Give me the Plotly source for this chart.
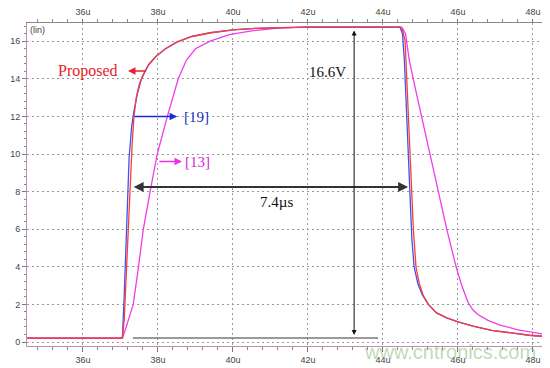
import plotly.graph_objects as go

# ---- data (time in microseconds, voltage in V) ----
t_proposed = [34.5, 37.05, 37.1, 37.14, 37.18, 37.22, 37.27, 37.31, 37.36, 37.42, 37.5, 37.6,
              37.75, 37.95, 38.2, 38.5, 38.9, 39.4, 40.0, 40.6, 41.3, 42.0, 44.45, 44.52,
              44.59, 44.63, 44.68, 44.72, 44.76, 44.81, 44.88, 44.97, 45.07, 45.21, 45.43,
              45.7, 46.0, 46.4, 46.9, 47.4, 47.9, 48.27]
v_proposed = [0.2, 0.2, 1.2, 3.0, 5.0, 7.0, 9.0, 10.5, 12.0, 13.0, 13.7, 14.2,
              14.75, 15.2, 15.6, 15.95, 16.25, 16.45, 16.6, 16.68, 16.72, 16.75, 16.75, 16.6,
              16.0, 14.0, 12.0, 10.0, 8.0, 6.0, 4.0, 3.1, 2.5, 2.0, 1.55,
              1.28, 1.07, 0.85, 0.62, 0.47, 0.36, 0.3]

t_ref19 = [34.5, 37.05, 37.1, 37.14, 37.18, 37.23, 37.3, 37.36, 37.45, 37.56,
           37.75, 37.95, 38.2, 38.5, 38.9, 39.4, 40.0, 40.6, 41.3, 42.0, 44.45, 44.52,
           44.57, 44.6, 44.64, 44.68, 44.72, 44.77, 44.83, 44.93, 45.05, 45.21, 45.43,
           45.7, 46.0, 46.4, 46.9, 47.4, 47.9, 48.27]
v_ref19 = [0.2, 0.2, 2.5, 5.0, 7.5, 9.8, 11.5, 12.3, 13.2, 14.0,
           14.75, 15.2, 15.6, 15.95, 16.25, 16.45, 16.6, 16.68, 16.72, 16.75, 16.75, 16.4,
           15.0, 13.5, 11.5, 9.5, 7.5, 5.5, 4.0, 3.1, 2.5, 2.0, 1.55,
           1.28, 1.07, 0.85, 0.62, 0.47, 0.36, 0.3]

t_ref13 = [34.5, 37.05, 37.12, 37.24, 37.34, 37.48, 37.61, 37.79, 37.98, 38.25, 38.54,
           38.76, 39.0, 39.39, 39.9, 40.5, 41.2, 42.0, 44.5, 44.6, 44.7, 44.85, 45.03,
           45.25, 45.46, 45.7, 45.95, 46.1, 46.27, 46.4, 46.54, 46.8, 47.12, 47.6, 48.27]
v_ref13 = [0.2, 0.2, 0.6, 1.3, 2.0, 4.0, 6.0, 8.0, 10.0, 12.0, 14.0,
           15.0, 15.6, 16.0, 16.35, 16.55, 16.7, 16.75, 16.75, 16.4, 15.0, 13.6, 12.0,
           10.0, 8.0, 6.0, 4.0, 3.0, 2.1, 1.7, 1.45, 1.15, 0.9, 0.65, 0.42]

x_ticks = [36, 38, 40, 42, 44, 46, 48]
x_tick_labels = ["36u", "38u", "40u", "42u", "44u", "46u", "48u"]
y_ticks = [0, 2, 4, 6, 8, 10, 12, 14, 16]
y_tick_labels = ["0", "2", "4", "6", "8", "10", "12", "14", "16"]

X_RANGE = [34.507, 48.267]
Y_RANGE = [-0.213, 16.968]

RED = "#ff3b3b"
BLUE = "#3a55f0"
MAG = "#ee3cee"

fig = go.Figure()
fig.add_trace(go.Scatter(x=t_ref13, y=v_ref13, mode="lines", line=dict(color=MAG, width=1.3),
                         name="[13]", hoverinfo="skip"))
fig.add_trace(go.Scatter(x=t_ref19, y=v_ref19, mode="lines", line=dict(color=BLUE, width=1.3),
                         name="[19]", hoverinfo="skip"))
fig.add_trace(go.Scatter(x=t_proposed, y=v_proposed, mode="lines", line=dict(color=RED, width=1.3),
                         name="Proposed", hoverinfo="skip"))
# invisible copy on the top axis so that the top time axis is drawn
fig.add_trace(go.Scatter(x=t_proposed, y=v_proposed, mode="lines", xaxis="x2",
                         line=dict(color="rgba(0,0,0,0)", width=0.1), hoverinfo="skip",
                         showlegend=False))

tickfont = dict(family="Liberation Sans", size=9, color="#444")
common_x = dict(range=X_RANGE, tickmode="array", tickvals=x_ticks, ticktext=x_tick_labels,
                ticks="outside", tickcolor="#777", tickfont=tickfont,
                zeroline=False, showline=True, linewidth=1, automargin=False)

GRID = dict(showgrid=True, gridcolor="#999", griddash="2px,3px", gridwidth=1)

# the page body has an 8px margin, so the figure is sized/offset to compensate
fig.update_layout(
    width=542, height=360,
    margin=dict(l=19, r=7, t=15, b=22, autoexpand=False),
    paper_bgcolor="white", plot_bgcolor="white",
    showlegend=False,
    xaxis=dict(**common_x, side="bottom", linecolor="#b98fb3", ticklen=5,
               minor=dict(dtick=0.4, tick0=0, ticks="outside", ticklen=3, tickcolor="#888",
                          showgrid=False),
               **GRID),
    xaxis2=dict(**common_x, side="top", overlaying="x", anchor="y", linecolor="#888",
                ticklen=3, showgrid=False,
                minor=dict(dtick=0.4, tick0=0, ticks="outside", ticklen=3, tickcolor="#888",
                           showgrid=False)),
    yaxis=dict(range=Y_RANGE, tickmode="array", tickvals=y_ticks, ticktext=y_tick_labels,
               ticks="outside", ticklen=4, tickcolor="#777", tickfont=tickfont,
               zeroline=False, showline=True, linecolor="#b98fb3", linewidth=1, automargin=False,
               minor=dict(dtick=0.4, tick0=0, ticks="outside", ticklen=2, tickcolor="#888",
                          showgrid=False),
               **GRID),
)

# gray baseline reference
fig.add_shape(type="line", xref="x", yref="y", x0=37.33, x1=43.87, y0=0.21, y1=0.21,
              line=dict(color="#777", width=1.5))

serif = "Liberation Serif"
ann = []
ann.append(dict(x=34.54, y=16.6, xref="x", yref="y", text="(lin)", showarrow=False,
                xanchor="left", yanchor="middle", font=dict(family="Liberation Sans", size=9, color="#444")))
ann.append(dict(x=36.13, y=14.42, xref="x", yref="y", text="Proposed", showarrow=False,
                font=dict(family=serif, size=16, color="#e8202a")))
ann.append(dict(x=37.2, y=14.42, ax=37.71, ay=14.42, xref="x", yref="y", axref="x", ayref="y",
                text="", showarrow=True, arrowhead=2, arrowsize=1, arrowwidth=1.5, arrowcolor="#e8202a"))
ann.append(dict(x=39.03, y=11.97, xref="x", yref="y", text="[19]", showarrow=False,
                font=dict(family=serif, size=15, color="#2030c0")))
ann.append(dict(x=38.51, y=12.0, ax=37.33, ay=12.0, xref="x", yref="y", axref="x", ayref="y",
                text="", showarrow=True, arrowhead=2, arrowsize=1, arrowwidth=1.5, arrowcolor="#1a2ae0"))
ann.append(dict(x=39.05, y=9.57, xref="x", yref="y", text="[13]", showarrow=False,
                font=dict(family=serif, size=15, color="#e020e0")))
ann.append(dict(x=38.64, y=9.6, ax=38.0, ay=9.6, xref="x", yref="y", axref="x", ayref="y",
                text="", showarrow=True, arrowhead=2, arrowsize=1, arrowwidth=1.5, arrowcolor="#ee30ee"))
ann.append(dict(x=44.67, y=8.24, ax=37.31, ay=8.24, xref="x", yref="y", axref="x", ayref="y",
                text="", showarrow=True, arrowhead=2, startarrowhead=2, arrowside="end+start",
                arrowsize=1, startarrowsize=1, arrowwidth=2, arrowcolor="#333"))
ann.append(dict(x=41.17, y=7.45, xref="x", yref="y", text="7.4µs", showarrow=False,
                font=dict(family=serif, size=15, color="#111")))
ann.append(dict(x=43.23, y=0.37, ax=43.23, ay=16.65, xref="x", yref="y", axref="x", ayref="y",
                text="", showarrow=True, arrowhead=2, startarrowhead=2, arrowside="end+start",
                arrowsize=1, startarrowsize=1, arrowwidth=1, arrowcolor="#111"))
ann.append(dict(x=42.51, y=14.36, xref="x", yref="y", text="16.6V", showarrow=False,
                font=dict(family=serif, size=15, color="#111")))
ann.append(dict(x=0.82, y=-0.02, xref="paper", yref="paper", text="www.cntronics.com",
                showarrow=False, xanchor="center", yanchor="middle",
                font=dict(family="Liberation Sans", size=20, color="rgba(110,170,90,0.45)")))
fig.update_layout(annotations=ann)

fig.write_html("out.html")
